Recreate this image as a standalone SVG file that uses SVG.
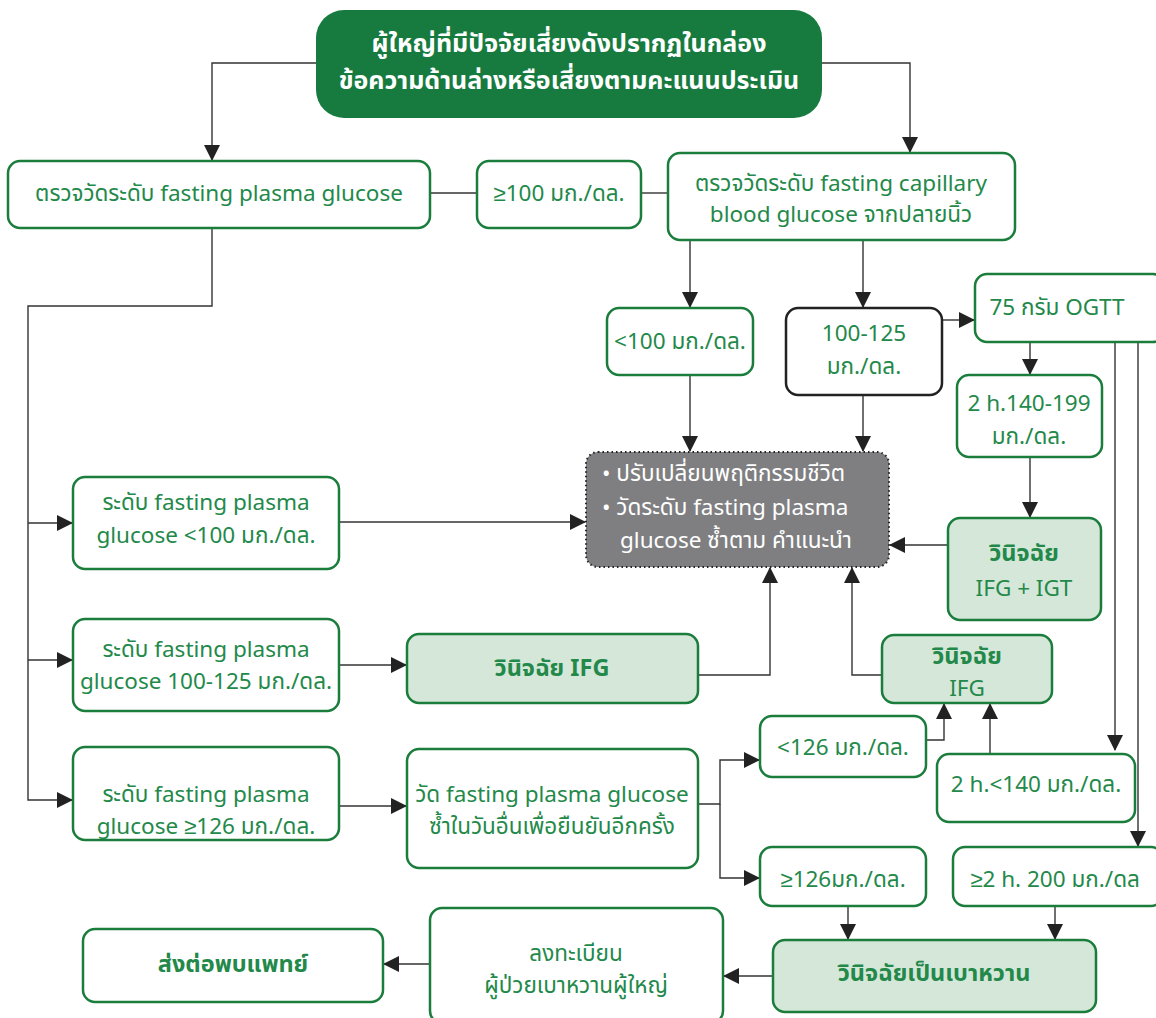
<svg xmlns="http://www.w3.org/2000/svg" width="1156" height="1018" viewBox="0 0 1156 1018">
<style>
.n{fill:#fff;stroke:#1a7d3c;stroke-width:2.5}
.k{fill:#fff;stroke:#222;stroke-width:2.5}
.f{fill:#d5e7d9;stroke:#1a7d3c;stroke-width:2.5}
.t{font-family:"Noto Sans Thai","Noto Sans",sans-serif;font-size:22.5px;fill:#23894a;text-anchor:middle}
.b{font-weight:bold;font-size:23.5px}
.w{fill:#fff}
.s{text-anchor:start}
.h{font-size:25px}
.c{fill:none;stroke:#333;stroke-width:1.4}
</style>
<defs>
<marker id="a" markerUnits="userSpaceOnUse" markerWidth="16" markerHeight="16" refX="15" refY="8" orient="auto">
<path d="M0,0 L16,8 L0,16 Z" fill="#222"/>
</marker>
</defs>
<g id="connectors">
<path class="c" d="M316,63 H212 V160" marker-end="url(#a)"/>
<path class="c" d="M822,63 H910 V152" marker-end="url(#a)"/>
<path class="c" d="M430,193 H477"/>
<path class="c" d="M641,193 H668"/>
<path class="c" d="M212,228 V306 H28 V800 H72" marker-end="url(#a)"/>
<path class="c" d="M28,523 H72" marker-end="url(#a)"/>
<path class="c" d="M28,660 H72" marker-end="url(#a)"/>
<path class="c" d="M690,240 V307" marker-end="url(#a)"/>
<path class="c" d="M863,240 V307" marker-end="url(#a)"/>
<path class="c" d="M942,320 H974" marker-end="url(#a)"/>
<path class="c" d="M690,375 V451" marker-end="url(#a)"/>
<path class="c" d="M863,395 V451" marker-end="url(#a)"/>
<path class="c" d="M1030,342 V374" marker-end="url(#a)"/>
<path class="c" d="M1030,457 V517" marker-end="url(#a)"/>
<path class="c" d="M948,545 H890" marker-end="url(#a)"/>
<path class="c" d="M1115,342 V750" marker-end="url(#a)"/>
<path class="c" d="M1138,342 V846" marker-end="url(#a)"/>
<path class="c" d="M339,522 H585" marker-end="url(#a)"/>
<path class="c" d="M339,665 H406" marker-end="url(#a)"/>
<path class="c" d="M698,675 H770 V568" marker-end="url(#a)"/>
<path class="c" d="M882,675 H852 V568" marker-end="url(#a)"/>
<path class="c" d="M339,806 H406" marker-end="url(#a)"/>
<path class="c" d="M698,804 H720 V760 H759" marker-end="url(#a)"/>
<path class="c" d="M720,804 V878 H759" marker-end="url(#a)"/>
<path class="c" d="M926,740 H944 V704" marker-end="url(#a)"/>
<path class="c" d="M990,754 V704" marker-end="url(#a)"/>
<path class="c" d="M848,906 V939" marker-end="url(#a)"/>
<path class="c" d="M1055,906 V939" marker-end="url(#a)"/>
<path class="c" d="M773,976 H724" marker-end="url(#a)"/>
<path class="c" d="M430,964 H384" marker-end="url(#a)"/>
</g>
<g id="top">
<rect x="316" y="10" width="506" height="108" rx="28" fill="#177b3f"/>
<text class="t b w h" x="569" y="52">ผู้ใหญ่ที่มีปัจจัยเสี่ยงดังปรากฏในกล่อง</text>
<text class="t b w h" x="569" y="89">ข้อความด้านล่างหรือเสี่ยงตามคะแนนประเมิน</text>
</g>
<g id="fpg">
<rect class="n" x="8" y="161" width="422" height="67" rx="12"/>
<text class="t" x="219" y="201">ตรวจวัดระดับ fasting plasma glucose</text>
</g>
<g id="ge100">
<rect class="n" x="477" y="161" width="164" height="67" rx="12"/>
<text class="t" x="559" y="201">≥100 มก./ดล.</text>
</g>
<g id="cbg">
<rect class="n" x="668" y="153" width="347" height="87" rx="12"/>
<text class="t" x="841" y="191">ตรวจวัดระดับ fasting capillary</text>
<text class="t" x="841" y="222">blood glucose จากปลายนิ้ว</text>
</g>
<g id="lt100">
<rect class="n" x="607" y="308" width="146" height="67" rx="12"/>
<text class="t" x="680" y="349">&lt;100 มก./ดล.</text>
</g>
<g id="r100125">
<rect class="k" x="786" y="308" width="156" height="87" rx="12"/>
<text class="t" x="864" y="341">100-125</text>
<text class="t" x="864" y="374">มก./ดล.</text>
</g>
<g id="ogtt">
<rect class="n" x="975" y="274" width="190" height="68" rx="12"/>
<text class="t" x="1057" y="315">75 กรัม OGTT</text>
</g>
<g id="h140199">
<rect class="n" x="957" y="375" width="145" height="82" rx="12"/>
<text class="t" x="1029" y="411">2 h.140-199</text>
<text class="t" x="1029" y="444">มก./ดล.</text>
</g>
<g id="lifestyle">
<rect x="586" y="452" width="303" height="115" rx="12" fill="#7f7f82" stroke="#222" stroke-width="2" stroke-dasharray="1.5,3"/>
<text class="t w s" x="602" y="481">• ปรับเปลี่ยนพฤติกรรมชีวิต</text>
<text class="t w s" x="602" y="515">• วัดระดับ fasting plasma</text>
<text class="t w s" x="620" y="548">glucose ซ้ำตาม คำแนะนำ</text>
</g>
<g id="ifgigt">
<rect class="f" x="948" y="518" width="153" height="102" rx="12"/>
<text class="t b" x="1024" y="561">วินิจฉัย</text>
<text class="t" x="1024" y="596">IFG + IGT</text>
</g>
<g id="l1">
<rect class="n" x="73" y="477" width="266" height="92" rx="12"/>
<text class="t" x="206" y="510">ระดับ  fasting plasma</text>
<text class="t" x="206" y="543">glucose &lt;100 มก./ดล.</text>
</g>
<g id="l2">
<rect class="n" x="73" y="619" width="266" height="92" rx="12"/>
<text class="t" x="206" y="657">ระดับ fasting plasma</text>
<text class="t" x="206" y="689">glucose 100-125 มก./ดล.</text>
</g>
<g id="ifg1">
<rect class="f" x="407" y="634" width="291" height="69" rx="12"/>
<text class="t b" x="552" y="676">วินิจฉัย IFG</text>
</g>
<g id="ifg2">
<rect class="f" x="882" y="635" width="170" height="68" rx="12"/>
<text class="t b" x="967" y="664">วินิจฉัย</text>
<text class="t" x="967" y="696">IFG</text>
</g>
<g id="l3">
<rect class="n" x="73" y="747" width="266" height="93" rx="12"/>
<text class="t" x="206" y="802">ระดับ  fasting plasma</text>
<text class="t" x="206" y="834">glucose ≥126 มก./ดล.</text>
</g>
<g id="repeat">
<rect class="n" x="407" y="749" width="291" height="119" rx="12"/>
<text class="t" x="552" y="802">วัด fasting plasma glucose</text>
<text class="t" x="552" y="834">ซ้ำในวันอื่นเพื่อยืนยันอีกครั้ง</text>
</g>
<g id="lt126">
<rect class="n" x="760" y="716" width="166" height="61" rx="12"/>
<text class="t" x="843" y="755">&lt;126 มก./ดล.</text>
</g>
<g id="h140">
<rect class="n" x="937" y="754" width="198" height="68" rx="12"/>
<text class="t" x="1036" y="792">2 h.&lt;140 มก./ดล.</text>
</g>
<g id="ge126">
<rect class="n" x="760" y="847" width="166" height="59" rx="12"/>
<text class="t" x="843" y="887">≥126มก./ดล.</text>
</g>
<g id="h200">
<rect class="n" x="953" y="847" width="210" height="59" rx="12"/>
<text class="t" x="1055" y="887">≥2 h. 200 มก./ดล</text>
</g>
<g id="dm">
<rect class="f" x="773" y="940" width="323" height="72" rx="12"/>
<text class="t b" x="934" y="981">วินิจฉัยเป็นเบาหวาน</text>
</g>
<g id="register">
<rect class="n" x="430" y="908" width="293" height="115" rx="12"/>
<text class="t" x="576" y="961">ลงทะเบียน</text>
<text class="t" x="576" y="993">ผู้ป่วยเบาหวานผู้ใหญ่</text>
</g>
<g id="refer">
<rect class="n" x="83" y="929" width="300" height="73" rx="12"/>
<text class="t b" x="233" y="972">ส่งต่อพบแพทย์</text>
</g>
</svg>
